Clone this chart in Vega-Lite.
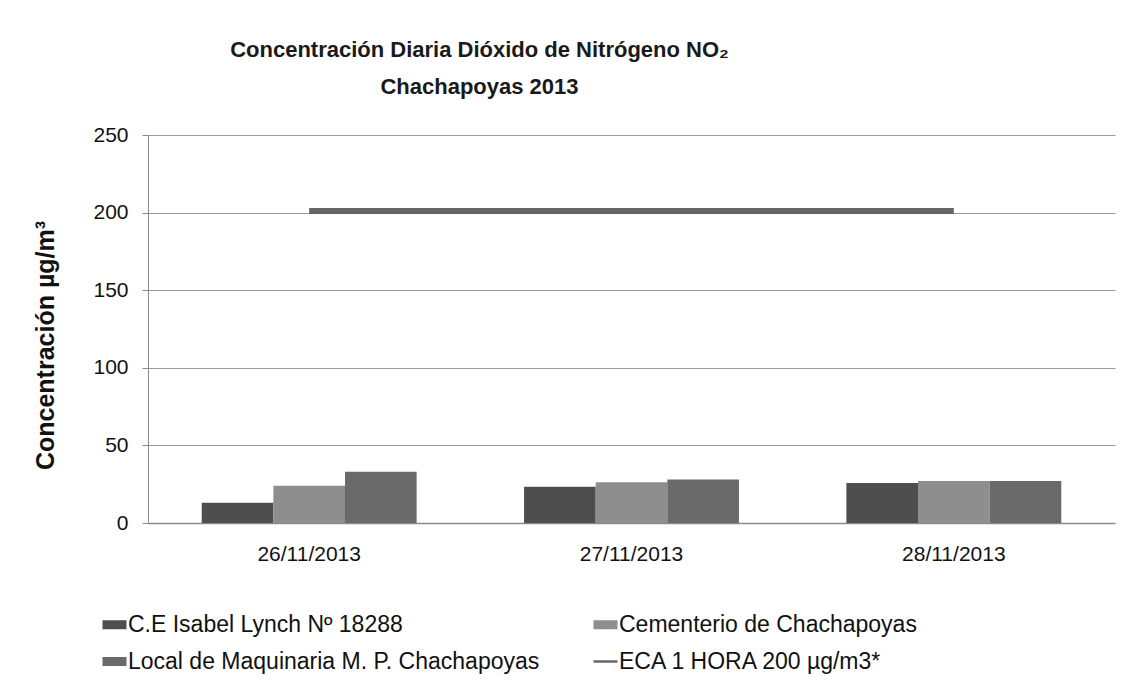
{
  "$schema": "https://vega.github.io/schema/vega-lite/v6.json",
  "width": 967,
  "height": 388,
  "autosize": "none",
  "padding": {"left": 148, "top": 135, "right": 19, "bottom": 165},
  "background": "white",
  "config": {
    "font": "Liberation Sans",
    "view": {"stroke": null}
  },
  "title": {
    "text": ["Concentración Diaria Dióxido de Nitrógeno NO₂", "Chachapoyas 2013"],
    "anchor": "middle",
    "dx": -152,
    "fontSize": 22,
    "fontWeight": "bold",
    "font": "Liberation Sans",
    "color": "#1a1a1a",
    "lineHeight": 37,
    "offset": 25
  },
  "datasets": {
    "bars": [
      {"fecha": "26/11/2013", "serie": "C.E Isabel Lynch Nº 18288", "valor": 13},
      {"fecha": "26/11/2013", "serie": "Cementerio de Chachapoyas", "valor": 24},
      {"fecha": "26/11/2013", "serie": "Local de Maquinaria M. P. Chachapoyas", "valor": 33},
      {"fecha": "27/11/2013", "serie": "C.E Isabel Lynch Nº 18288", "valor": 23.3},
      {"fecha": "27/11/2013", "serie": "Cementerio de Chachapoyas", "valor": 26.3},
      {"fecha": "27/11/2013", "serie": "Local de Maquinaria M. P. Chachapoyas", "valor": 28},
      {"fecha": "28/11/2013", "serie": "C.E Isabel Lynch Nº 18288", "valor": 25.8},
      {"fecha": "28/11/2013", "serie": "Cementerio de Chachapoyas", "valor": 27.1},
      {"fecha": "28/11/2013", "serie": "Local de Maquinaria M. P. Chachapoyas", "valor": 27.1}
    ],
    "eca": [
      {"fecha": "26/11/2013", "serie": "ECA 1 HORA 200 µg/m3*", "valor": 201},
      {"fecha": "27/11/2013", "serie": "ECA 1 HORA 200 µg/m3*", "valor": 201},
      {"fecha": "28/11/2013", "serie": "ECA 1 HORA 200 µg/m3*", "valor": 201}
    ]
  },
  "encoding": {
    "x": {
      "field": "fecha",
      "type": "nominal",
      "sort": null,
      "scale": {"paddingInner": 0.3333, "paddingOuter": 0.1667},
      "axis": {
        "title": null,
        "labelAngle": 0,
        "labelFontSize": 21,
        "labelColor": "#111111",
        "labelPadding": 20,
        "ticks": false,
        "domainColor": "#8a8a8a",
        "domainWidth": 1.5
      }
    },
    "y": {
      "field": "valor",
      "type": "quantitative",
      "scale": {"domain": [0, 250]},
      "axis": {
        "values": [0, 50, 100, 150, 200, 250],
        "title": "Concentración µg/m³",
        "titleFontSize": 25,
        "titleFontWeight": "bold",
        "titleColor": "#111111",
        "titlePadding": 34,
        "titleY": 210,
        "labelFontSize": 21,
        "labelColor": "#111111",
        "labelPadding": 14,
        "tickSize": 6,
        "tickColor": "#8a8a8a",
        "domainColor": "#8a8a8a",
        "gridColor": "#9a9a9a",
        "gridWidth": 1
      }
    },
    "color": {
      "field": "serie",
      "type": "nominal",
      "scale": {
        "domain": ["C.E Isabel Lynch Nº 18288", "Local de Maquinaria M. P. Chachapoyas", "Cementerio de Chachapoyas", "ECA 1 HORA 200 µg/m3*"],
        "range": ["#4e4e4e", "#6a6a6a", "#8e8e8e", "#666666"]
      },
      "legend": {
        "title": null,
        "orient": "none",
        "legendX": -45,
        "legendY": 478,
        "columns": 2,
        "columnPadding": 48,
        "rowPadding": 13,
        "labelFontSize": 23,
        "labelColor": "#111111",
        "labelOffset": 2,
        "symbolSize": 576,
        "labelLimit": 600,
        "encode": {
          "symbols": {
            "update": {
              "shape": {"signal": "datum.value === 'ECA 1 HORA 200 µg/m3*' ? 'M-1,0H1' : 'M-1,-0.375H1V0.375H-1Z'"},
              "strokeWidth": {"signal": "datum.value === 'ECA 1 HORA 200 µg/m3*' ? 2.5 : 0"},
              "stroke": {"scale": "color", "field": "value"},
              "fill": {"scale": "color", "field": "value"},
              "opacity": {"value": 1}
            }
          }
        }
      }
    }
  },
  "layer": [
    {
      "data": {"name": "bars"},
      "mark": {"type": "bar", "opacity": 1},
      "encoding": {
        "xOffset": {"field": "serie", "type": "nominal", "sort": ["C.E Isabel Lynch Nº 18288", "Cementerio de Chachapoyas", "Local de Maquinaria M. P. Chachapoyas"]}
      }
    },
    {
      "data": {"name": "eca"},
      "mark": {"type": "line", "strokeWidth": 6, "strokeCap": "butt"},
      "encoding": {}
    }
  ]
}
